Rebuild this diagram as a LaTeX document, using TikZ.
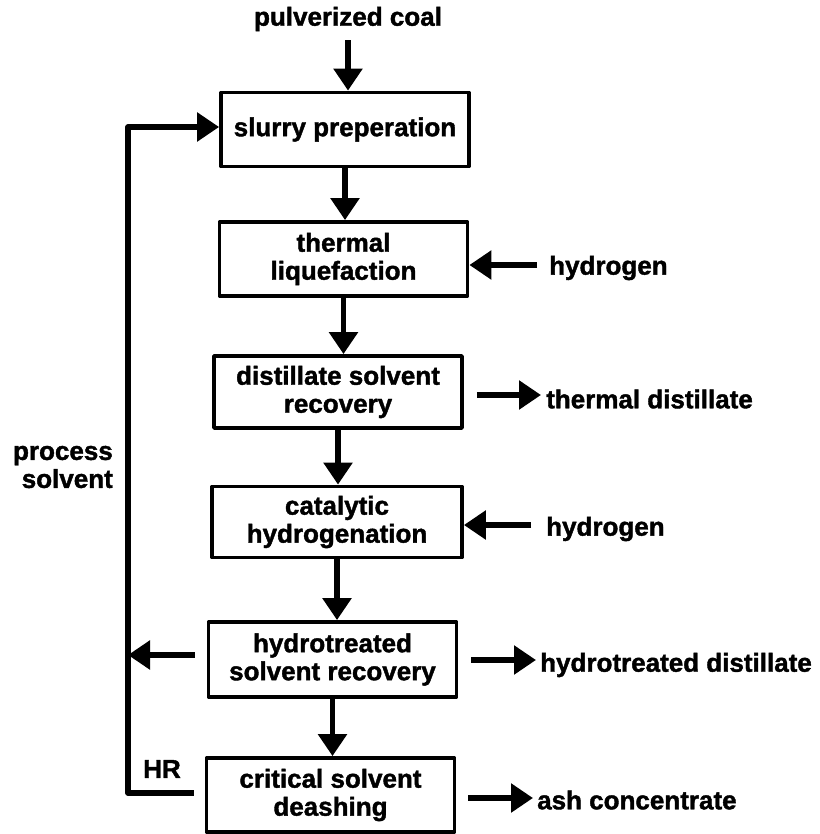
\documentclass[tikz,border=0pt]{standalone}
\usepackage{fontspec}
\setmainfont{Liberation Sans}[BoldFeatures={FakeBold=1.5}]
\usetikzlibrary{arrows.meta}
\begin{document}
\begin{tikzpicture}[x=1pt,y=-1pt,
  lbl/.style={font=\fontsize{26}{28}\selectfont\bfseries, inner sep=0pt, align=center},
  stepbox/.style={lbl, draw, line width=3.8pt, line join=round, minimum width=248pt, minimum height=74pt},
  arr/.style={line width=5.5pt, -{Triangle[length=22pt,width=28pt]}},
  ln/.style={line width=5pt, line join=round}]
\useasboundingbox (0,0) rectangle (819,834);
% text labels
\node[lbl] (pc) at (348,19) {pulverized coal};
\node[stepbox] (sp) at (345,129.5) {slurry preperation};
\node[stepbox] (tl) at (343.5,259) {thermal\\liquefaction};
\node[stepbox, minimum height=72pt] (dsr) at (338,392) {distillate solvent\\recovery};
\node[stepbox, minimum width=250pt, minimum height=71pt] (ch) at (337,522) {catalytic\\hydrogenation};
\node[stepbox, minimum height=75pt] (hsr) at (332.5,659.5) {hydrotreated\\solvent recovery};
\node[stepbox] (csd) at (330.5,795) {critical solvent\\deashing};
\node[lbl, anchor=west] (h1) at (549,268) {hydrogen};
\node[lbl, anchor=west] (td) at (546,399) {thermal distillate};
\node[lbl, anchor=west] (h2) at (546,529) {hydrogen};
\node[lbl, anchor=west] (hd) at (540,665) {hydrotreated distillate};
\node[lbl, anchor=west] (ac) at (537,800) {ash concentrate};
\node[lbl, align=right, anchor=east] (ps) at (113,467) {process\\solvent};
\node[lbl] (hr) at (162,769) {HR};
% loop coordinates
\coordinate (lt) at (128,127);
\coordinate (lb) at (128,793);
% main chain
\draw[arr] ([yshift=-9pt]pc.south) -- (pc.south |- sp.north);
\draw[arr] (sp.south) -- (sp.south |- tl.north);
\draw[arr] (tl.south) -- (tl.south |- dsr.north);
\draw[arr] (dsr.south) -- (dsr.south |- ch.north);
\draw[arr] (ch.south) -- (ch.south |- hsr.north);
\draw[arr] (hsr.south) -- (hsr.south |- csd.north);
% right side
\draw[arr] ([xshift=-12pt,yshift=3pt]h1.west) -- ([yshift=3pt]h1.west -| tl.east);
\draw[arr] ([xshift=13pt,yshift=4pt]td.west -| dsr.east) -- ([xshift=-5pt,yshift=4pt]td.west);
\draw[arr] ([xshift=-15pt,yshift=4pt]h2.west) -- ([yshift=4pt]h2.west -| ch.east);
\draw[arr] ([xshift=13pt,yshift=5pt]hd.west -| hsr.east) -- ([xshift=-4pt,yshift=5pt]hd.west);
\draw[arr] ([xshift=12pt,yshift=2pt]ac.west -| csd.east) -- ([xshift=-4pt,yshift=2pt]ac.west);
% left loop
\draw[arr, line join=round] ([xshift=-11pt]csd.west |- lb) -- (lb) -- (lt) -- (lt -| sp.west);
\draw[arr] ([xshift=-12pt,yshift=4.5pt]hsr.west) -- ([yshift=4.5pt]hsr.west -| lb);
\end{tikzpicture}
\end{document}
